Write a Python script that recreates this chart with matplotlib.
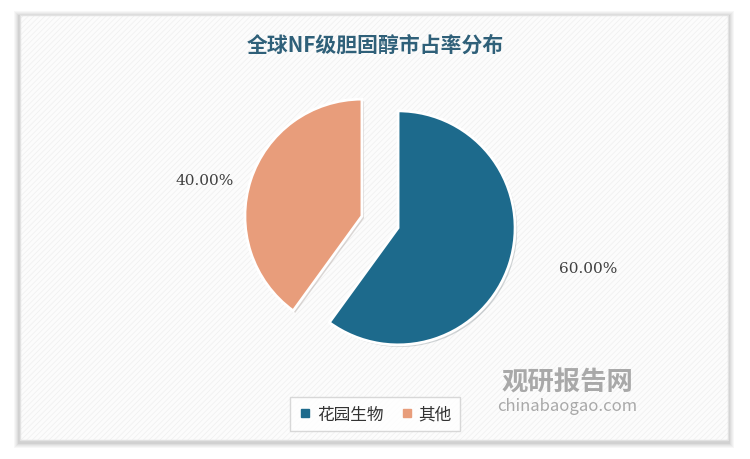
import matplotlib.pyplot as plt
from matplotlib.patches import Rectangle
from matplotlib.lines import Line2D
import matplotlib.patheffects as pe
import numpy as np

plt.rcParams['font.family'] = ['Noto Sans CJK SC', 'DejaVu Sans']
plt.rcParams['hatch.linewidth'] = 0.6

# data
categories = ['花园生物', '其他']
shares = [60.0, 40.0]
colors = ['#1D6A8C', '#E89D7B']
title = '全球NF级胆固醇市占率分布'

W, H = 750, 460
fig = plt.figure(figsize=(7.5, 4.6), dpi=100)
fig.patch.set_facecolor('white')
ax = fig.add_axes([0, 0, 1, 1])

# pie (explode is in data units here, since the radius is given in pixels)
wedges, _ = ax.pie(shares, colors=colors, startangle=90, counterclock=False,
                   center=(380, H - 223), radius=117, explode=(19, 19),
                   wedgeprops=dict(edgecolor='white', linewidth=2,
                                   path_effects=[pe.SimplePatchShadow(offset=(1.5, -1.5), alpha=0.18),
                                                 pe.Normal()]),
                   frame=True)
ax.set_xlim(0, W)
ax.set_ylim(0, H)
ax.set_aspect('equal')
ax.axis('off')
for w in wedges:
    w.set_zorder(4)

# panel with soft shadow
px0, py0, px1, py1 = 20, 19, 728, 444
for i, a in enumerate([0.03, 0.03, 0.03, 0.04, 0.05]):
    g = 6 - i
    ax.add_patch(Rectangle((px0 - g, py0 - g - 2), px1 - px0 + 2 * g, py1 - py0 + 2 * g,
                           facecolor='#000000', alpha=a, edgecolor='none', zorder=0))
ax.add_patch(Rectangle((px0, py0), px1 - px0, py1 - py0, facecolor='#FCFCFC',
                       edgecolor='#F1F1F1', hatch='//////', linewidth=0, zorder=1))
ax.add_patch(Rectangle((px0, py0), px1 - px0, py1 - py0, facecolor='none',
                       edgecolor='#E2E2E2', linewidth=1, zorder=2))

# title
ax.text(375, H - 45, title, ha='center', va='center', fontsize=15,
        fontweight='bold', color='#2F6079', zorder=5)

# percentage labels
label_dist = [1.66, 1.38]
label_shift = [6, 5]
for w, s, d, sh in zip(wedges, shares, label_dist, label_shift):
    mid = np.deg2rad((w.theta1 + w.theta2) / 2 + sh)
    cx, cy = w.center
    ax.text(cx + w.r * d * np.cos(mid), cy + w.r * d * np.sin(mid), f'{s:.2f}%',
            ha='center', va='center', fontsize=11, family='DejaVu Serif',
            color='#404040', zorder=5)

# legend
handles = [Line2D([], [], marker='s', linestyle='none', markersize=6,
                  markerfacecolor=c, markeredgecolor=c) for c in colors]
leg = ax.legend(handles, categories, loc='center', bbox_to_anchor=(375 / W, 45 / H),
                ncol=2, frameon=True, fancybox=False, edgecolor='#CFCFCF',
                fontsize=12, handlelength=0.8, handletextpad=0.3, columnspacing=1.0,
                borderpad=0.5)
leg.get_frame().set_linewidth(1)
leg.set_zorder(6)
for t in leg.get_texts():
    t.set_color('#333333')

# watermark
ax.text(502, H - 383, '观研报告网', ha='left', va='center', fontsize=19,
        fontweight='bold', color='#8E8E8E', alpha=0.75, zorder=3)
ax.text(497, H - 407, 'chinabaogao.com', ha='left', va='center', fontsize=12,
        color='#8E8E8E', alpha=0.75, zorder=3)

fig.savefig('out.png', dpi=100)
